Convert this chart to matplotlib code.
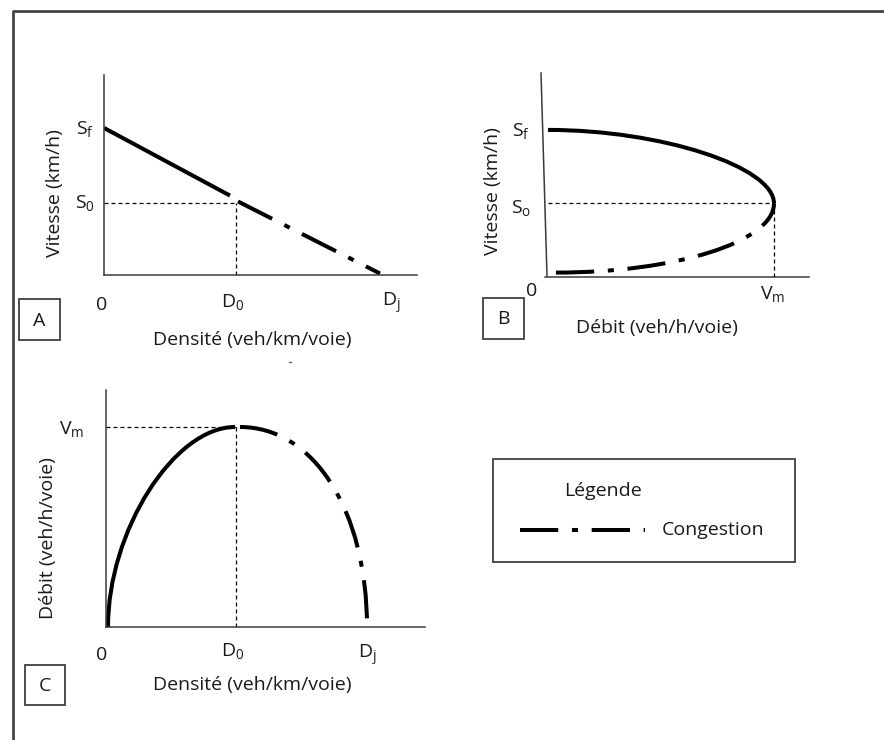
import matplotlib
matplotlib.use("Agg")
import matplotlib.pyplot as plt
from matplotlib.path import Path
from matplotlib.patches import PathPatch, Rectangle
from matplotlib.lines import Line2D

plt.rcParams['font.family'] = ['Open Sans', 'DejaVu Sans']
plt.rcParams['mathtext.default'] = 'regular'

# ---------------- data (schematic values) ----------------
# Panel A : vitesse vs densité
densite_A_fluide = [0, 63]
vitesse_A_fluide = [100, 54]
densite_A_congestion = [67, 138]
vitesse_A_congestion = [50, 1]
D0_A, Dj_A, S0_A, Sf_A = 66, 138, 49, 100

# Panel B : vitesse vs débit (Bezier control points)
debit_B_fluide = [0, 1000, 2000, 2000]
vitesse_B_fluide = [100, 100, 75, 50]
debit_B_congestion = [70, 1130, 2000, 2000]
vitesse_B_congestion = [3, 3, 24, 50]
Vm_B, So_B, Sf_B = 2000, 50, 100

# Panel C : débit vs densité (Bezier control points)
densite_C_fluide = [1, 1, 34, 64.5]
debit_C_fluide = [0, 960, 2000, 2000]
densite_C_congestion = [67, 104, 130.5, 130.5]
debit_C_congestion = [2000, 2000, 1160, 0]
D0_C, Dj_C, Vm_C = 65, 130.5, 2000

legend_title = "Légende"
legend_label = "Congestion"

# ---------------- styling ----------------
W, H = 884, 740
TXT = '#1a1a1a'
AXC = '#3a3a3a'
FS = 14
CURVE_LW = 2.9
CONG_LS = (0, (9.5, 3.4, 1.5, 3.4))
REF_LS = (0, (3.2, 2.4))

fig = plt.figure(figsize=(W / 100, H / 100), dpi=100)


def rect(l, r, t, b):
    return [l / W, 1 - b / H, (r - l) / W, (b - t) / H]


# overlay axes in pixel coordinates for frame, boxes, legend and labels
ov = fig.add_axes([0, 0, 1, 1])
ov.set_xlim(0, W)
ov.set_ylim(H, 0)
ov.axis('off')
ov.set_zorder(-1)


def txt(x, y, s, **kw):
    kw.setdefault('ha', 'center')
    kw.setdefault('va', 'center')
    kw.setdefault('fontsize', FS)
    kw.setdefault('color', TXT)
    ov.text(x, y, s, **kw)


# outer frame
ov.plot([13, 13, W + 5], [H + 5, 11, 11], color='#444444', lw=2.0, solid_capstyle='butt')


def letter_box(l, r, t, b, s):
    ov.add_patch(Rectangle((l, t), r - l, b - t, fill=False, ec='#404040', lw=1.3))
    txt((l + r) / 2, (t + b) / 2 + 1, s)


def bez(ax, xs, ys, ls):
    verts = list(zip(xs, ys))
    path = Path(verts, [Path.MOVETO, Path.CURVE4, Path.CURVE4, Path.CURVE4])
    ax.add_patch(PathPatch(path, fill=False, lw=CURVE_LW, ec='black', ls=ls, capstyle='butt'))


def setup(ax):
    ax.set_facecolor('none')
    for s in ('top', 'right'):
        ax.spines[s].set_visible(False)
    for s in ('left', 'bottom'):
        ax.spines[s].set_color(AXC)
        ax.spines[s].set_linewidth(1.1)
    ax.set_xticks([])
    ax.set_yticks([])


# ---------------- Panel A ----------------
axA = fig.add_axes(rect(104, 417, 75, 275))
setup(axA)
axA.set_xlim(0, 156.5)
axA.set_ylim(0, 136)
axA.plot([0, D0_A], [S0_A, S0_A], color='black', lw=0.9, ls=REF_LS)
axA.plot([D0_A, D0_A], [0, S0_A], color='black', lw=0.9, ls=REF_LS)
axA.plot(densite_A_fluide, vitesse_A_fluide, color='black', lw=CURVE_LW, solid_capstyle='butt')
axA.plot(densite_A_congestion, vitesse_A_congestion, color='black', lw=CURVE_LW, ls=CONG_LS,
         dash_capstyle='butt')
txt(85, 129, 'S$_f$')
txt(85, 203, 'S$_0$')
txt(102, 305, '0')
txt(233, 302, 'D$_0$')
txt(391, 303, 'D$_j$')
txt(252, 340, 'Densité (veh/km/voie)')
txt(55, 193, 'Vitesse (km/h)', rotation=90)
letter_box(19, 60, 299, 340, 'A')
ov.plot([289, 291], [362, 362], color='#666666', lw=1)

# ---------------- Panel B ----------------
axB = fig.add_axes(rect(541, 809, 73, 277))
setup(axB)
axB.spines['left'].set_visible(False)
axB.spines['bottom'].set_visible(False)
axB.set_xlim(-62, 2310)
axB.set_ylim(0, 138.7)
# slanted vertical axis and horizontal axis (pixel overlay)
ov.plot([541, 547], [73, 276], color=AXC, lw=1.1)
ov.plot([545, 809], [277, 277], color=AXC, lw=1.1)
axB.plot([0, Vm_B], [So_B, So_B], color='black', lw=0.9, ls=REF_LS)
axB.plot([Vm_B, Vm_B], [0, So_B], color='black', lw=0.9, ls=REF_LS)
bez(axB, debit_B_fluide, vitesse_B_fluide, '-')
bez(axB, debit_B_congestion, vitesse_B_congestion, CONG_LS)
txt(521, 131, 'S$_f$')
txt(521, 208, 'S$_o$')
txt(532, 291, '0')
txt(773, 294, 'V$_m$')
txt(657, 328, 'Débit (veh/h/voie)')
txt(493, 191, 'Vitesse (km/h)', rotation=90)
letter_box(483, 524, 298, 339, 'B')

# ---------------- Panel C ----------------
axC = fig.add_axes(rect(106, 425, 390, 627))
setup(axC)
axC.set_xlim(0, 159.5)
axC.set_ylim(0, 2370)
axC.plot([0, D0_C], [Vm_C, Vm_C], color='black', lw=0.9, ls=REF_LS)
axC.plot([D0_C, D0_C], [0, Vm_C], color='black', lw=0.9, ls=REF_LS)
bez(axC, densite_C_fluide, debit_C_fluide, '-')
bez(axC, densite_C_congestion, debit_C_congestion, CONG_LS)
txt(72, 429, 'V$_m$')
txt(102, 655, '0')
txt(233, 651, 'D$_0$')
txt(367, 655, 'D$_j$')
txt(252, 685, 'Densité (veh/km/voie)')
txt(48, 538, 'Débit (veh/h/voie)', rotation=90)
letter_box(25, 65, 665, 705, 'C')

# ---------------- Legend ----------------
ov.add_patch(Rectangle((493, 459), 302, 103, fill=False, ec='#404040', lw=1.3))
txt(603, 491, legend_title)
ov.add_line(Line2D([520, 645], [530, 530], color='black', lw=CURVE_LW, ls=CONG_LS,
                   dash_capstyle='butt'))
txt(662, 530, legend_label, ha='left')

fig.savefig('out.png', dpi=100)
